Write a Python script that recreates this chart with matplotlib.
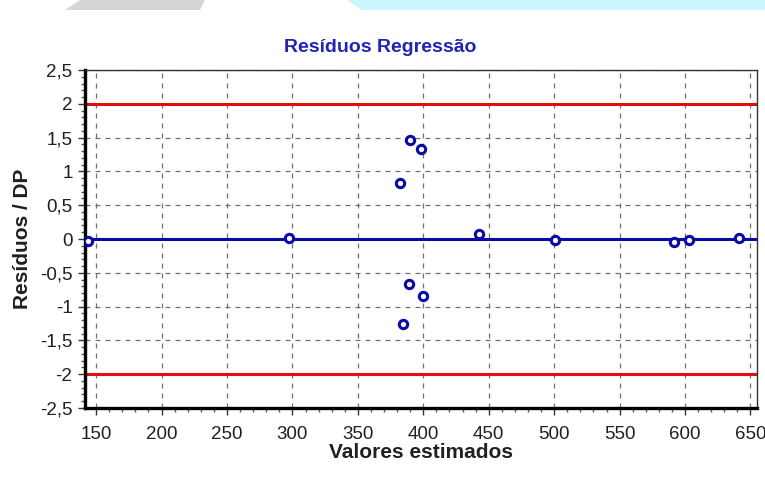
import numpy as np
import matplotlib.pyplot as plt
from matplotlib.patches import Polygon
from matplotlib.ticker import MultipleLocator, FuncFormatter

# estimated values vs standardized residuals
estimados = [144, 297.6, 382.4, 384.6, 388.7, 389.7, 398.1, 399.4, 442.9, 500.4, 591.5, 602.7, 641.6]
residuos = [-0.03, 0.02, 0.83, -1.26, -0.67, 1.47, 1.33, -0.84, 0.07, -0.01, -0.05, -0.01, 0.02]

LIMITE = 2
TITULO = 'Resíduos Regressão'

plt.rcParams['font.family'] = ['Liberation Sans', 'DejaVu Sans']


def virgula(v, pos):
    s = ('%g' % round(v, 2)).replace('.', ',')
    return '0' if s == '-0' else s


def generate_plot():
    fig = plt.figure(figsize=(7.65, 4.83), dpi=100)

    # faixas do topo da imagem
    W, H = 765, 483
    def px(pts):
        return [(x / W, 1 - y / H) for x, y in pts]
    fig.patches.append(Polygon(px([(65, 10), (200, 10), (205, 0), (80, 0)]),
                               closed=True, transform=fig.transFigure,
                               facecolor='#d6d6d6', edgecolor='none'))
    fig.patches.append(Polygon(px([(362, 10), (765, 10), (765, 0), (347, 0)]),
                               closed=True, transform=fig.transFigure,
                               facecolor='#ccf5fd', edgecolor='none'))

    ax = fig.add_axes([85 / W, 1 - 408 / H, (757 - 85) / W, (408 - 70) / H])

    ax.axhline(LIMITE, color='#e01010', lw=2.2, zorder=2)
    ax.axhline(-LIMITE, color='#e01010', lw=2.2, zorder=2)
    ax.axhline(0, color='#0a0aa8', lw=2.2, zorder=2)

    ax.plot(estimados, residuos, 'o', ms=6, mfc='white', mec='#0a0aa8',
            mew=2.2, zorder=3)

    ax.set_xlim(141.5, 655)
    ax.set_ylim(-2.5, 2.5)

    ax.xaxis.set_major_locator(MultipleLocator(50))
    ax.xaxis.set_minor_locator(MultipleLocator(10))
    ax.yaxis.set_major_locator(MultipleLocator(0.5))
    ax.yaxis.set_minor_locator(MultipleLocator(0.1))
    ax.yaxis.set_major_formatter(FuncFormatter(virgula))

    ax.grid(True, which='major', color='#707070', ls=(0, (4, 4)), lw=0.9)

    ax.tick_params(which='major', length=5, width=1, labelsize=13.5,
                   labelcolor='#202020', color='#333333')
    ax.tick_params(axis='x', which='major', pad=8)
    ax.tick_params(axis='y', which='major', pad=4)
    ax.tick_params(which='minor', length=3, width=1, color='#555555')

    for s in ['left', 'bottom']:
        ax.spines[s].set_linewidth(2.4)
    for s in ['top', 'right']:
        ax.spines[s].set_linewidth(1)
        ax.spines[s].set_color('#333333')

    ax.set_xlabel('Valores estimados', fontsize=15, fontweight='bold',
                  color='#202020', labelpad=0)
    ax.set_ylabel('Resíduos / DP', fontsize=15, fontweight='bold',
                  color='#202020', labelpad=6)

    fig.text(380 / W, 1 - 47 / H, TITULO, ha='center', va='center',
             fontsize=14, fontweight='bold', color='#2323b8')

    fig.savefig('out.png', dpi=100)


if __name__ == "__main__":
    generate_plot()
